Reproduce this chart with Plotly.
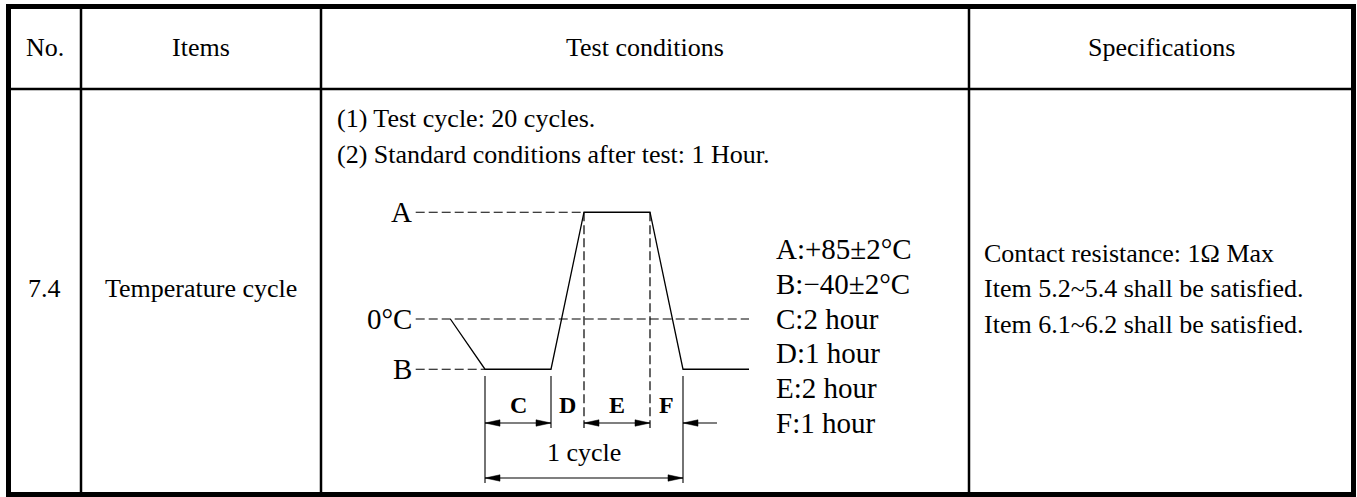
import plotly.graph_objects as go

# ---------------- data ----------------
header_labels = ["No.", "Items", "Test conditions", "Specifications"]
item_no = "7.4"
item_name = "Temperature cycle"
condition_lines = ["(1) Test cycle: 20 cycles.",
                   "(2) Standard conditions after test: 1 Hour."]
spec_lines = ["Contact resistance: 1Ω Max",
              "Item 5.2~5.4 shall be satisfied.",
              "Item 6.1~6.2 shall be satisfied."]

phase_names = ["C", "D", "E", "F"]
phase_hours = [2, 1, 2, 1]
level_labels = ["A", "0°C", "B"]
level_temps = [85, 0, -40]
profile_time = [-1.05, 0, 2, 3, 5, 6, 8.0]
profile_temp = [0, -40, -40, 85, 85, -40, -40]
legend_lines = ["A:+85±2°C", "B:−40±2°C", "C:2 hour", "D:1 hour", "E:2 hour", "F:1 hour"]
cycle_label = "1 cycle"

# ---------------- layout constants ----------------
W, H = 1357, 497
col_edges = [8.5, 81, 321, 969, 1353.5]
row_edges = [6.5, 89, 494.5]
SERIF = "Liberation Serif, Times New Roman, serif"
INK = "#000000"


def px(x):
    return x / W


def py(y):
    return 1 - y / H


# diagram axes (time in hours, temperature in degC)
T_ORIGIN_PX, PX_PER_H = 485, 33.0
ZERO_PY, PX_PER_DEG = 319, 1.256
dom_x_px = (395, 760)
dom_y_px = (190, 492)
x2range = [(dom_x_px[0] - T_ORIGIN_PX) / PX_PER_H, (dom_x_px[1] - T_ORIGIN_PX) / PX_PER_H]
y2range = [(ZERO_PY - dom_y_px[1]) / PX_PER_DEG, (ZERO_PY - dom_y_px[0]) / PX_PER_DEG]


def y2_at(pix):
    return (ZERO_PY - pix) / PX_PER_DEG


fig = go.Figure()

# temperature profile
fig.add_trace(go.Scatter(x=profile_time, y=profile_temp, xaxis="x2", yaxis="y2",
                         mode="lines", line=dict(color=INK, width=1.3),
                         hoverinfo="skip", showlegend=False))

DASH = "9px,4px"
LEVEL_START = -2.1
level_ends = [profile_time[profile_temp.index(level_temps[0])],
              profile_time[-1],
              profile_time[profile_temp.index(level_temps[2])]]
for temp, t_end in zip(level_temps, level_ends):
    fig.add_trace(go.Scatter(x=[LEVEL_START, t_end], y=[temp, temp], xaxis="x2", yaxis="y2",
                             mode="lines", line=dict(color=INK, width=1.2, dash=DASH),
                             hoverinfo="skip", showlegend=False))

# phase boundaries
bounds = [0]
for h in phase_hours:
    bounds.append(bounds[-1] + h)
total = bounds[-1]

shapes = []
# table outer and inner lines
shapes.append(dict(type="rect", xref="paper", yref="paper",
                   x0=px(col_edges[0]), x1=px(col_edges[-1]),
                   y0=py(row_edges[0]), y1=py(row_edges[-1]),
                   line=dict(color=INK, width=5)))
for cx in col_edges[1:-1]:
    shapes.append(dict(type="line", xref="paper", yref="paper",
                       x0=px(cx), x1=px(cx), y0=py(row_edges[0]), y1=py(row_edges[-1]),
                       line=dict(color=INK, width=2.5)))
shapes.append(dict(type="line", xref="paper", yref="paper",
                   x0=px(col_edges[0]), x1=px(col_edges[-1]),
                   y0=py(row_edges[1]), y1=py(row_edges[1]),
                   line=dict(color=INK, width=2.5)))

EXT_TOP, EXT_SHORT, EXT_LONG = 376, 428, 483
DIM_Y, CYCLE_Y = 423, 478
thin = dict(color=INK, width=1.1)
# extension lines
for b in bounds:
    if b in (bounds[2], bounds[3]):
        shapes.append(dict(type="line", xref="x2", yref="y2", x0=b, x1=b,
                           y0=level_temps[0], y1=y2_at(EXT_SHORT),
                           line=dict(color=INK, width=1.2, dash=DASH)))
    elif b == bounds[1]:
        shapes.append(dict(type="line", xref="x2", yref="y2", x0=b, x1=b,
                           y0=y2_at(EXT_TOP), y1=y2_at(EXT_SHORT), line=thin))
    else:
        shapes.append(dict(type="line", xref="x2", yref="y2", x0=b, x1=b,
                           y0=y2_at(EXT_TOP), y1=y2_at(EXT_LONG), line=thin))

AH_L = 15 / PX_PER_H
AH_W = 3.2 / PX_PER_DEG


def arrow(t, ypix, direction):
    yv = y2_at(ypix)
    dx = -direction * AH_L
    return dict(type="path", xref="x2", yref="y2",
                path=f"M {t},{yv} L {t + dx},{yv + AH_W} L {t + dx},{yv - AH_W} Z",
                fillcolor=INK, line=dict(color=INK, width=0.5))


# dimension line for phases C and E (inside arrows), F (outside arrow)
for a, b in [(bounds[0], bounds[1]), (bounds[2], bounds[3])]:
    shapes.append(dict(type="line", xref="x2", yref="y2", x0=a, x1=b,
                       y0=y2_at(DIM_Y), y1=y2_at(DIM_Y), line=thin))
    shapes.append(arrow(a, DIM_Y, -1))
    shapes.append(arrow(b, DIM_Y, 1))
shapes.append(dict(type="line", xref="x2", yref="y2", x0=bounds[4], x1=bounds[4] + 1.03,
                   y0=y2_at(DIM_Y), y1=y2_at(DIM_Y), line=thin))
shapes.append(arrow(bounds[4], DIM_Y, -1))
# 1 cycle dimension
shapes.append(dict(type="line", xref="x2", yref="y2", x0=0, x1=total,
                   y0=y2_at(CYCLE_Y), y1=y2_at(CYCLE_Y), line=thin))
shapes.append(arrow(0, CYCLE_Y, -1))
shapes.append(arrow(total, CYCLE_Y, 1))

ann = []
BODY = 26


def txt(x, y, text, size=BODY, xanchor="center", xref="paper", yref="paper"):
    return dict(xref=xref, yref=yref, x=x, y=y, text=text, showarrow=False,
                xanchor=xanchor, yanchor="middle",
                font=dict(family=SERIF, size=size, color=INK))


# headers
for i, lab in enumerate(header_labels):
    ann.append(txt(px((col_edges[i] + col_edges[i + 1]) / 2), py(48), lab))
ROW_MID = 288
ann.append(txt(px((col_edges[0] + col_edges[1]) / 2), py(ROW_MID), item_no))
ann.append(txt(px((col_edges[1] + col_edges[2]) / 2), py(ROW_MID), item_name))
for i, line in enumerate(condition_lines):
    ann.append(txt(px(335), py(118 + 36 * i), line, xanchor="left"))
for i, line in enumerate(spec_lines):
    ann.append(txt(px(982), py(253 + 35.5 * i), line, xanchor="left"))
# legend of diagram
for i, line in enumerate(legend_lines):
    ann.append(txt(px(774), py(249 + 34.8 * i), line, size=29, xanchor="left"))
# level labels
for lab, temp in zip(level_labels, level_temps):
    ann.append(txt(LEVEL_START - 0.05, temp, lab, size=29, xanchor="right", xref="x2", yref="y2"))
# phase letters
for name, a, h in zip(phase_names, bounds[:-1], phase_hours):
    ann.append(txt(a + h / 2, y2_at(405), f"<b>{name}</b>", size=24, xref="x2", yref="y2"))
ann.append(txt(total / 2, y2_at(452), cycle_label, size=26, xref="x2", yref="y2"))

fig.update_layout(
    width=W, height=H,
    margin=dict(l=0, r=0, t=0, b=0),
    paper_bgcolor="white", plot_bgcolor="rgba(0,0,0,0)",
    xaxis=dict(visible=False, range=[0, 1]),
    yaxis=dict(visible=False, range=[0, 1]),
    xaxis2=dict(domain=[px(dom_x_px[0]), px(dom_x_px[1])], range=x2range, anchor="y2",
                visible=False, fixedrange=True),
    yaxis2=dict(domain=[py(dom_y_px[1]), py(dom_y_px[0])], range=y2range, anchor="x2",
                visible=False, fixedrange=True),
    shapes=shapes,
    annotations=ann,
    showlegend=False,
)

fig.write_html("out.html", config={"displayModeBar": False},
               post_script="document.body.style.margin='0';")
